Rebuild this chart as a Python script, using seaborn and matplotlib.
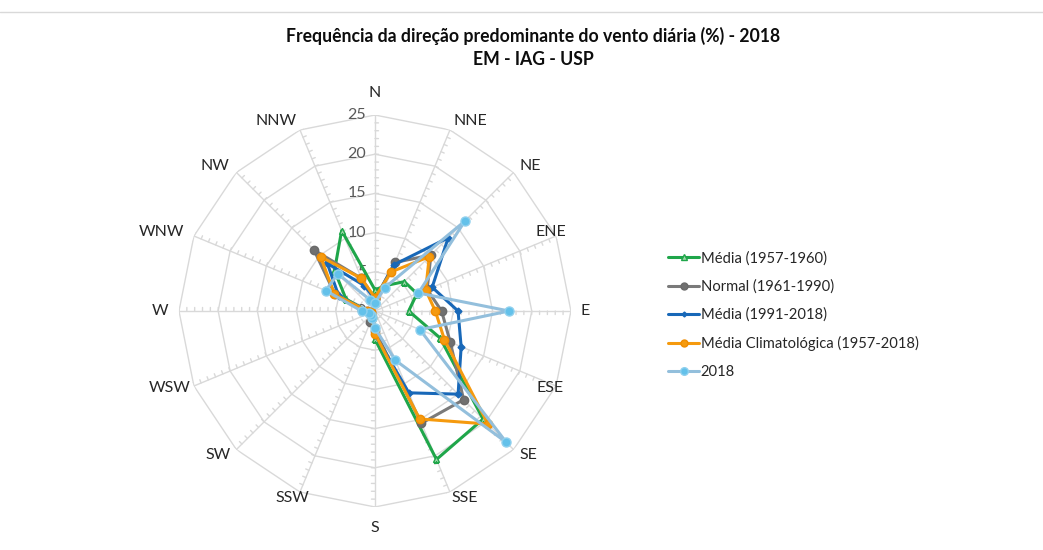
import numpy as np
import pandas as pd
import matplotlib
matplotlib.use("Agg")
import matplotlib.pyplot as plt
from matplotlib.lines import Line2D
import seaborn as sns

# wind directions (clockwise from north)
directions = ["N", "NNE", "NE", "ENE", "E", "ESE", "SE", "SSE",
              "S", "SSW", "SW", "WSW", "W", "WNW", "NW", "NNW"]

# frequency (%)
media_1957_1960 = [2.7, 3.5, 5.3, 5.8, 4.3, 9.0, 19.5, 20.5, 3.6, 1.0, 0.5, 0.5, 1.0, 4.0, 7.3, 11.1]
normal_1961_1990 = [1.5, 6.7, 10.1, 7.2, 8.5, 10.4, 16.0, 15.5, 2.5, 1.5, 0.8, 0.5, 1.0, 5.5, 11.0, 4.5]
media_1991_2018 = [1.5, 6.4, 13.2, 7.9, 10.6, 11.9, 15.0, 11.3, 3.0, 1.0, 0.7, 0.5, 1.0, 5.0, 8.6, 3.5]
media_climatologica = [1.7, 5.4, 9.8, 7.0, 7.7, 9.6, 20.4, 14.9, 2.9, 1.0, 0.7, 0.5, 1.0, 5.6, 9.8, 4.5]
ano_2018 = [1.0, 3.2, 16.2, 6.0, 17.1, 6.2, 23.7, 6.8, 2.2, 1.0, 0.8, 0.8, 1.7, 6.8, 6.7, 1.5]

series = [
    ("Média (1957-1960)", media_1957_1960, "#1fa64a", "^", "#9ed6a9", "#1fa64a", 5),
    ("Normal (1961-1990)", normal_1961_1990, "#7a7a7a", "o", "#707070", "#6a6a6a", 6),
    ("Média (1991-2018)", media_1991_2018, "#1868b8", "D", "#1868b8", "#1868b8", 3.5),
    ("Média Climatológica (1957-2018)", media_climatologica, "#f59a0e", "o", "#f59a0e", "#f08c00", 6),
    ("2018", ano_2018, "#93bfdc", "o", "#63c1ea", "#8fd0ee", 6.5),
]

# where each direction label sits relative to the outer vertex (pixels)
label_offsets = [(0, 22), (20, 9), (17, 6), (-5, 4), (14, 0), (-6, -2), (15, -5), (15, -6),
                 (0, -21), (-8, -6), (-18, -5), (-24, -2), (-19, 0), (-32, 4), (-21, 6), (-24, 9)]

sns.set_theme(style="white")
plt.rcParams["font.family"] = ["Lato", "DejaVu Sans"]

fig = plt.figure(figsize=(10.43, 5.5), dpi=100)
ax = fig.add_axes([0.1716, 0.0782, 0.3758, 0.7127], projection="polar")
ax.set_theta_zero_location("N")
ax.set_theta_direction(-1)
ax.set_ylim(0, 25)
ax.grid(False)
ax.spines["polar"].set_visible(False)
ax.set_xticks([])
ax.set_yticks([])
ax.patch.set_alpha(0)

theta = np.deg2rad(np.arange(len(directions)) * 22.5)
theta_closed = np.append(theta, theta[0])

# polygon grid, spokes and small ticks
grid_col = "#d9d9d9"
for r in range(5, 30, 5):
    ax.plot(theta_closed, [r] * len(theta_closed), color=grid_col, lw=1, zorder=0)
for t in theta:
    ax.plot([t, t], [0, 25], color=grid_col, lw=1, zorder=0)
tx, ty = [], []
for t in theta:
    for r in range(1, 26):
        tx += [t, t + 0.45 / r, np.nan]
        ty += [r, r, np.nan]
ax.plot(tx, ty, color=grid_col, lw=1, zorder=0)

for v in range(0, 30, 5):
    ax.annotate(str(v), (0, v), xytext=(-9, 0), textcoords="offset pixels",
                ha="right", va="center", fontsize=11.5, color="#595959")

for t, d, off in zip(theta, directions, label_offsets):
    ax.annotate(d, (t, 25), xytext=off, textcoords="offset pixels",
                ha="center", va="center", fontsize=11.5, color="#262626",
                annotation_clip=False)

handles = []
for i, (name, vals, col, mk, mfc, mec, ms) in enumerate(series):
    df = pd.DataFrame({"theta": theta_closed, "freq": np.append(vals, vals[0])})
    sns.lineplot(data=df, x="theta", y="freq", sort=False, estimator=None,
                 ax=ax, color=col, lw=2.2, marker=mk, markersize=ms,
                 markerfacecolor=mfc, markeredgecolor=mec, markeredgewidth=1,
                 zorder=3 + i, legend=False)
    handles.append(Line2D([], [], color=col, lw=2.2, marker=mk, markersize=ms - 1,
                          markerfacecolor=mfc, markeredgecolor=mec, label=name))
ax.set_xlabel("")
ax.set_ylabel("")

fig.legend(handles=handles, loc="center left", bbox_to_anchor=(0.628, 0.427),
           frameon=False, fontsize=10.6, handlelength=2.1, handletextpad=0.1,
           labelspacing=0.95)

fig.text(0.511, 0.914, "Frequência da direção predominante do vento diária (%) - 2018\nEM - IAG - USP",
         ha="center", va="center", fontsize=12.7, weight="bold", color="#0d0d0d",
         linespacing=1.4)
fig.add_artist(Line2D([0, 1], [0.978, 0.978], color=grid_col, lw=1))

fig.savefig("out.png", dpi=100)
